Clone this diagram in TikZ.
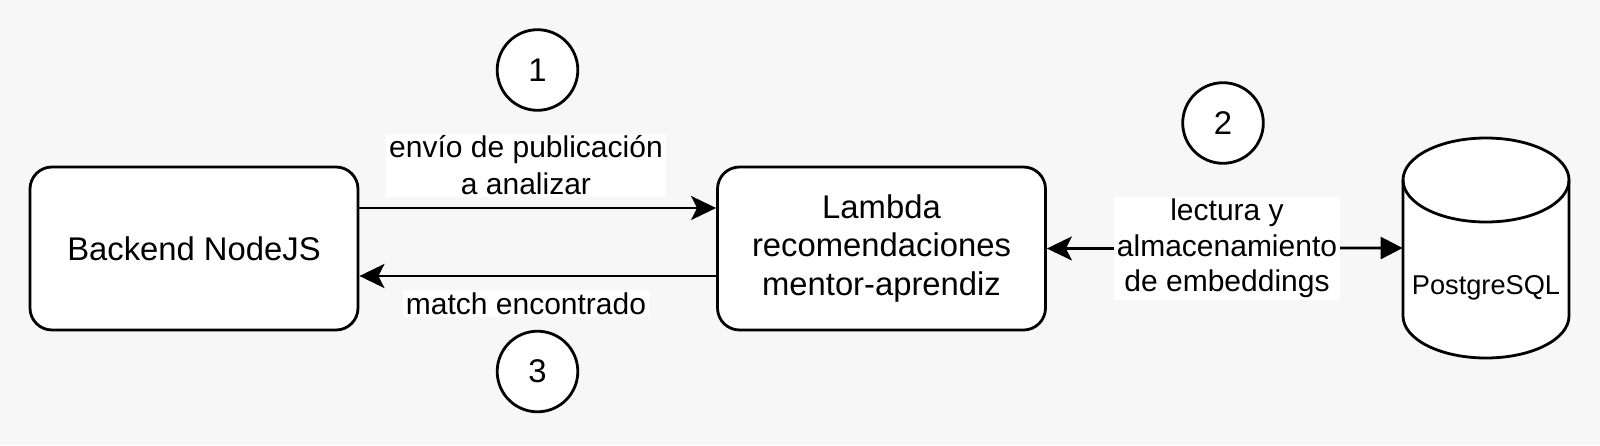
\documentclass[tikz,border=0pt]{standalone}
\usepackage{fontspec}
\setmainfont{Liberation Sans}
\usetikzlibrary{arrows.meta}
\definecolor{bggray}{HTML}{F7F7F7}
\tikzset{
  box/.style={draw, line width=1.4pt, fill=white, rounded corners=11pt,
    minimum width=164pt, minimum height=81.5pt, align=center,
    font=\fontsize{16.4}{19.25}\selectfont},
  lbl/.style={fill=white, align=center, inner xsep=1.5pt, inner ysep=1pt,
    font=\fontsize{15}{18.5}\selectfont},
  num/.style={draw, circle, line width=1.4pt, fill=white, minimum size=40.3pt,
    inner sep=0pt, font=\fontsize{16.4}{19}\selectfont},
  conn/.style={line width=1.4pt},
  tipclassic/.tip={Stealth[length=12.5pt, width=12pt, inset=3pt]},
  tipblock/.tip={Triangle[length=11pt, width=11pt]},
}
\begin{document}
\begin{tikzpicture}[x=0.5pt, y=-0.5pt]
\fill[bggray] (0,0) rectangle (1600,445);
\useasboundingbox (0,0) rectangle (1600,445);

\node[box] (backend) at (194,248.5) {Backend NodeJS};
\node[box] (lambda) at (881.5,248.5) {Lambda\\recomendaciones\\mentor-aprendiz};

% PostgreSQL cylinder
\node[minimum width=83pt, minimum height=110pt, inner sep=0pt] (db) at (1486,248) {};
\filldraw[line width=1.4pt, fill=white]
  (1403,316) arc[start angle=180, end angle=360, x radius=41.5pt, y radius=21pt]
  -- (1569,180) arc[start angle=0, end angle=180, x radius=41.5pt, y radius=21pt]
  -- cycle;
\draw[line width=1.4pt]
  (1403,180) arc[start angle=180, end angle=360, x radius=41.5pt, y radius=21pt];
\node[font=\fontsize{13.6}{16}\selectfont] (dbtext) at (1486,288) {PostgreSQL};

% connectors
\draw[conn, -{tipclassic}] ([yshift=20.25pt]backend.east) -- ([yshift=20.25pt]lambda.west);
\draw[conn, -{tipclassic}] ([yshift=-13.75pt]lambda.west) -- ([yshift=-13.75pt]backend.east);
\draw[conn, {tipclassic}-{tipblock}] (lambda.east) -- (db.west);

% labels
\node[lbl] (l1) at (526,165.5) {envío de publicación\\a analizar};
\node[lbl] (l3) at (526,303.5) {match encontrado};
\node[lbl, font=\fontsize{15}{17.8}\selectfont] (l2) at (1227,248.5) {lectura y\\almacenamiento\\de embeddings};

% step numbers
\node[num] (n1) at (537.5,70) {1};
\node[num] (n2) at (1223,123) {2};
\node[num] (n3) at (537.5,371.5) {3};
\end{tikzpicture}
\end{document}
